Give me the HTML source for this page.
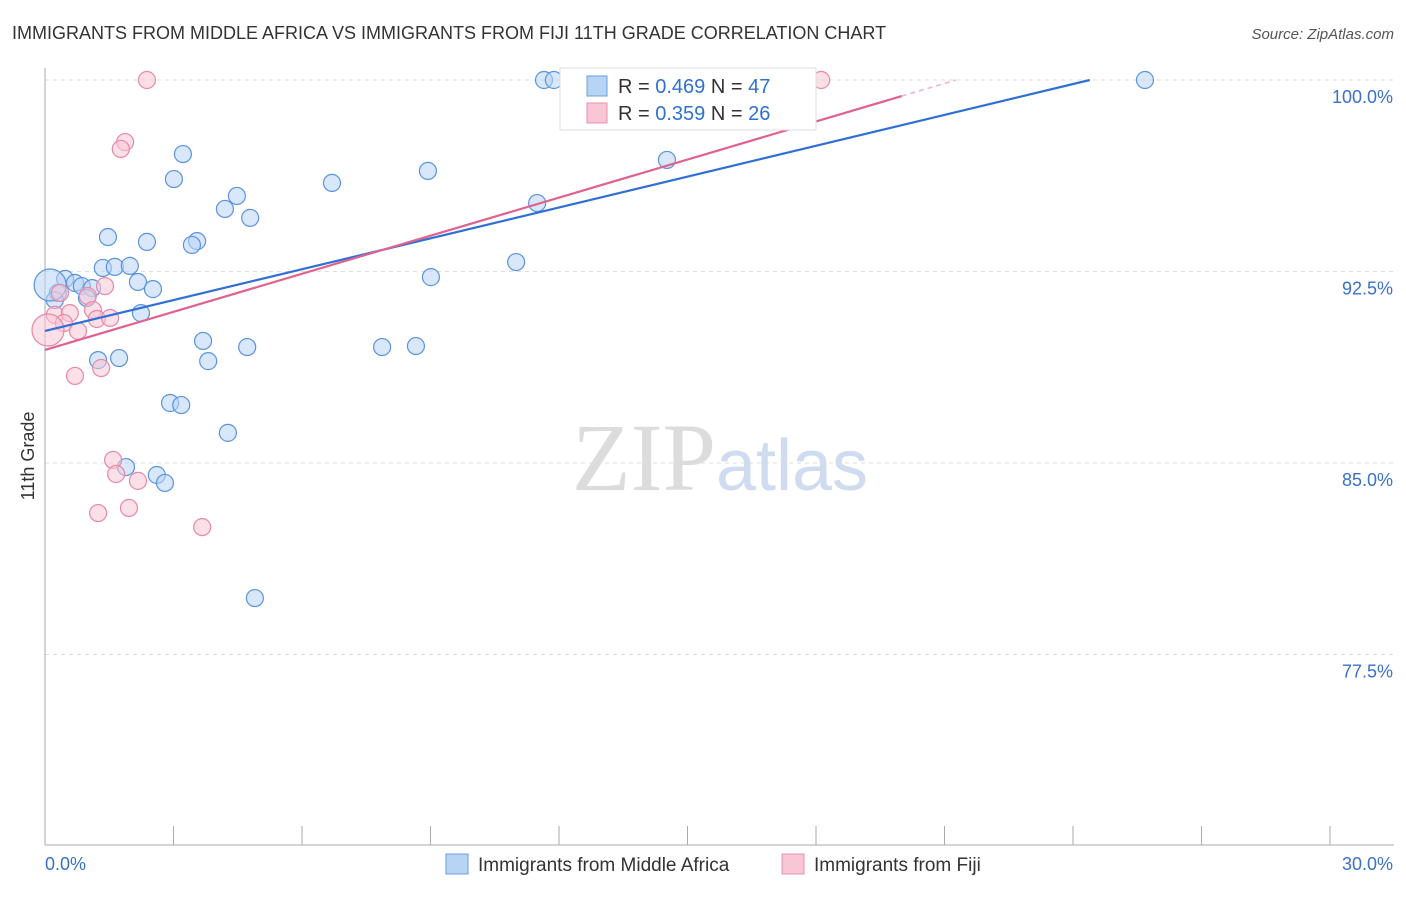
<!DOCTYPE html>
<html><head><meta charset="utf-8"><style>
body{margin:0;background:#fff;font-family:"Liberation Sans",sans-serif}
</style></head><body>
<svg id="chart" width="1406" height="892" xmlns="http://www.w3.org/2000/svg" font-family="Liberation Sans, sans-serif">
<text x="12" y="39" font-size="18" fill="#333">IMMIGRANTS FROM MIDDLE AFRICA VS IMMIGRANTS FROM FIJI 11TH GRADE CORRELATION CHART</text>
<text x="1394" y="39" font-size="15" fill="#555" text-anchor="end" font-style="italic">Source: ZipAtlas.com</text>
<text x="720" y="490" font-size="96" text-anchor="middle"><tspan fill="#dcdcdc" font-family="Liberation Serif, serif">ZIP</tspan><tspan fill="#cfdcf0" font-size="72">atlas</tspan></text>
<g id="grid"></g><g id="axes"></g><g id="marks"></g>
<text transform="translate(34,456) rotate(-90)" font-size="18" fill="#333" text-anchor="middle">11th Grade</text>
<g>
<rect x="560" y="68" width="256" height="62" fill="#fff" stroke="#ddd"/>
<rect x="587" y="76" width="20" height="20" fill="#b8d4f5" stroke="#6a9ee0"/>
<text x="618" y="93" font-size="20" fill="#333">R = <tspan fill="#3070d0">0.469</tspan>   N = <tspan fill="#3070d0">47</tspan></text>
<rect x="587" y="103" width="20" height="20" fill="#f9c6d6" stroke="#e890aa"/>
<text x="618" y="120" font-size="20" fill="#333">R = <tspan fill="#3070d0">0.359</tspan>   N = <tspan fill="#3070d0">26</tspan></text>
</g>
<g>
<rect x="446" y="854" width="22" height="20" fill="#b8d4f5" stroke="#6a9ee0"/>
<text x="478" y="871" font-size="19" fill="#333">Immigrants from Middle Africa</text>
<rect x="782" y="854" width="22" height="20" fill="#f9c6d6" stroke="#e890aa"/>
<text x="814" y="871" font-size="19" fill="#333">Immigrants from Fiji</text>
</g>
</svg>
<script>
const yTicks=[100,92.5,85,77.5];
const yTickLabels=["100.0%","92.5%","85.0%","77.5%"];
const blueX=[11.65,11.88,25.68,14.52,3.22,3.01,8.94,6.70,4.48,4.20,4.79,11.49,1.47,2.38,3.55,3.43,1.35,1.63,1.98,11.00,9.01,0.47,0.70,2.17,2.52,0.86,1.10,0.30,0.98,0.23,2.24,3.69,4.72,7.87,8.66,1.24,1.73,3.81,2.92,3.18,4.27,1.89,2.61,2.80,4.90,0.12];
const blueY=[100,100,100,96.87,97.10,96.12,96.44,95.97,95.46,94.95,94.60,95.18,93.85,93.66,93.69,93.54,92.64,92.68,92.72,92.87,92.28,92.21,92.05,92.09,91.81,91.93,91.85,91.66,91.46,91.38,90.87,89.78,89.54,89.54,89.58,89.03,89.11,88.99,87.35,87.27,86.18,84.84,84.53,84.22,79.71,91.97];
const pinkX=[2.38,18.12,1.87,1.77,1.40,0.35,1.00,0.23,0.58,1.12,1.21,1.52,0.44,0.77,0.07,0.70,1.31,1.59,1.66,2.17,1.24,1.96,3.67];
const pinkY=[100,100,97.57,97.30,91.93,91.66,91.54,90.80,90.87,90.99,90.64,90.68,90.48,90.17,90.21,88.41,88.72,85.12,84.57,84.30,83.04,83.24,82.49];
const blueTrend=[90.17,0.403]; // intercept, slope
const pinkTrend=[89.43,0.497];
const NS="http://www.w3.org/2000/svg";
const X=v=>45+v/30*1285, Y=v=>80+(100-v)/7.5*191.5;
function mk(p,t,a){const e=document.createElementNS(NS,t);for(const k in a)e.setAttribute(k,a[k]);p.appendChild(e);return e;}
const grid=document.getElementById('grid'),axes=document.getElementById('axes'),marks=document.getElementById('marks');
yTicks.forEach((t,i)=>{
 const l=mk(grid,'line',{x1:45,x2:1394,y1:Y(t),y2:Y(t),stroke:'#ddd','stroke-dasharray':'4,4'});
 
 
 const tx=mk(axes,'text',{x:1393,y:Y(t)+23,'font-size':18,fill:'#3a70c8','text-anchor':'end'});tx.textContent=yTickLabels[i];
 
 
});
mk(axes,'line',{x1:45,x2:45,y1:68,y2:845,stroke:'#aaa'});
mk(axes,'line',{x1:45,x2:1394,y1:845,y2:845,stroke:'#aaa'});
for(let i=0;i<=10;i++){const t=mk(axes,'line',{x1:X(i*3),x2:X(i*3),y1:826,y2:845,stroke:'#aaa'});
 
 }
const x0=mk(axes,'text',{x:45,y:870,'font-size':18,fill:'#3a70c8'});x0.textContent='0.0%';


const x1=mk(axes,'text',{x:1393,y:870,'font-size':18,fill:'#3a70c8','text-anchor':'end'});x1.textContent='30.0%';


function pts(xs,ys,fill,stroke,name){xs.forEach((v,i)=>{
 const big=(v<0.15);
 const c=mk(marks,'circle',{cx:X(v),cy:Y(ys[i]),r:big?16:8.5,fill:fill,'fill-opacity':0.55,stroke:stroke,'stroke-width':1.2});
 
 });}
pts(blueX,blueY,'#b8d4f5','#5b93e0','point-middle-africa');
pts(pinkX,pinkY,'#f9c6d6','#e888a6','point-fiji');
function trend(tr,xEnd,xDash,color,name){
 const xe=Math.min(xEnd,(100-tr[0])/tr[1]);
 const l=mk(marks,'line',{x1:X(0),y1:Y(tr[0]),x2:X(xe),y2:Y(tr[0]+tr[1]*xe),stroke:color,'stroke-width':2.2});
 
 
 if(xDash){const xd=(100-tr[0])/tr[1];const d=mk(marks,'line',{x1:X(xe),y1:Y(tr[0]+tr[1]*xe),x2:X(xd),y2:100?Y(100):0,stroke:color,'stroke-width':1.5,'stroke-dasharray':'5,4','stroke-opacity':0.5});
 
 }
}
trend(blueTrend,30,false,'#2f6fd6','trend-middle-africa');
trend(pinkTrend,20,true,'#e0628e','trend-fiji');
</script>
</body></html>
